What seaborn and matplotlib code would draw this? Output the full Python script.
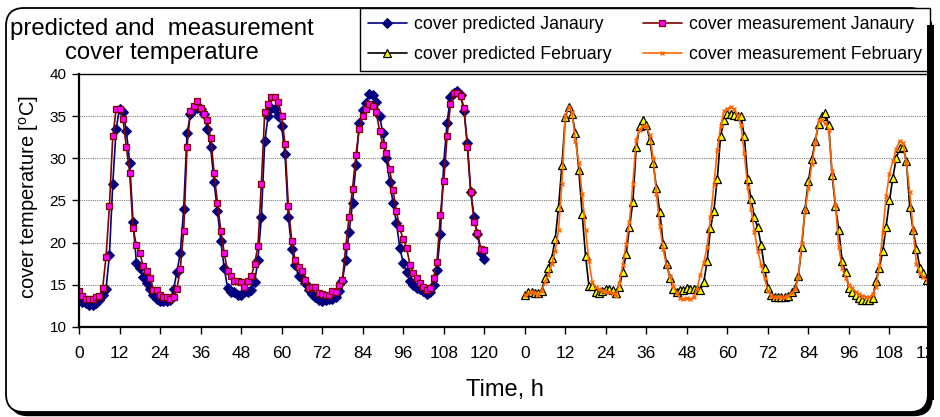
import numpy as np
import pandas as pd
import matplotlib
matplotlib.use("Agg")
import matplotlib.pyplot as plt
import seaborn as sns
from matplotlib.patches import FancyBboxPatch, Rectangle
from matplotlib.transforms import IdentityTransform

# hourly readings, 0..120 h for each month
hours = np.arange(0, 121)
feb_shift = 132  # February is drawn after January on the same axis

jan_predicted = [
    13.3, 13.0, 12.8, 12.6, 12.6, 12.8, 13.2, 13.8, 14.5, 18.5, 27.0, 33.5, 35.9, 35.5, 33.3, 29.5, 22.5, 17.6, 17.0, 15.9, 15.2, 14.5, 13.8, 13.3, 13.1,
    13.1, 13.1, 13.2, 14.5, 16.5, 18.8, 24.0, 33.0, 35.2, 35.8, 36.0, 35.8, 35.3, 33.5, 31.3, 27.2, 23.7, 20.2, 17.0, 14.6, 14.2, 14.2, 13.8, 13.8, 14.1,
    14.2, 14.4, 15.3, 18.0, 23.0, 32.0, 35.0, 36.0, 35.8, 35.0, 33.8, 30.5, 23.0, 19.3, 17.3, 16.1, 15.8, 15.2, 14.4, 13.9, 13.5, 13.2, 13.1, 13.2, 13.3,
    13.3, 13.6, 14.3, 15.5, 18.0, 21.3, 24.7, 29.2, 34.2, 35.7, 36.6, 37.6, 37.5, 36.7, 35.0, 33.0, 30.0, 27.2, 24.7, 22.3, 19.4, 17.6, 16.5, 15.5, 15.0,
    14.6, 14.5, 14.3, 13.9, 14.1, 15.0, 16.8, 21.0, 29.4, 34.2, 37.3, 37.8, 38.0, 37.5, 35.6, 31.8, 26.0, 23.1, 21.0, 18.8, 18.1,
]
jan_measured = [
    14.3, 13.7, 13.3, 13.3, 13.3, 13.5, 13.7, 14.6, 18.3, 24.3, 32.6, 35.8, 35.8, 34.7, 31.4, 28.3, 21.7, 19.7, 18.8, 17.2, 16.6, 15.8, 14.4, 14.4, 13.8,
    13.5, 13.5, 13.3, 13.5, 14.5, 16.9, 21.4, 31.4, 35.6, 36.2, 36.8, 36.0, 35.3, 34.5, 32.4, 28.3, 24.7, 21.4, 18.8, 16.6, 16.0, 15.4, 15.4, 15.3, 14.8,
    15.4, 16.0, 17.5, 19.6, 27.0, 35.5, 36.4, 37.3, 37.3, 36.7, 35.0, 31.7, 24.3, 20.2, 17.9, 17.1, 16.6, 15.6, 14.6, 14.8, 14.8, 14.0, 13.9, 13.8, 13.8,
    14.3, 14.1, 15.0, 15.6, 19.6, 23.1, 26.4, 30.4, 33.5, 35.0, 35.8, 36.4, 36.2, 35.5, 33.3, 31.6, 30.6, 28.7, 26.2, 23.7, 21.7, 20.4, 19.4, 17.4, 16.4,
    15.8, 15.2, 14.7, 14.4, 14.6, 15.8, 17.7, 23.3, 27.3, 32.6, 36.4, 37.8, 37.8, 37.4, 36.0, 31.4, 26.0, 22.5, 21.1, 19.3, 19.1,
]
feb_predicted = [
    13.8, 14.1, 14.1, 14.0, 14.0, 14.3, 15.8, 17.0, 18.2, 20.4, 24.2, 29.2, 34.9, 36.1, 35.2, 33.0, 28.6, 23.4, 18.4, 14.9, 14.9, 14.2, 14.0, 14.3, 14.5,
    14.5, 14.4, 14.0, 14.8, 16.5, 18.6, 21.8, 24.8, 31.3, 33.8, 34.5, 34.0, 32.2, 29.5, 26.5, 23.6, 19.8, 17.5, 15.8, 14.5, 14.2, 14.4, 14.4, 14.6, 14.5,
    14.5, 14.5, 14.4, 15.3, 17.8, 21.7, 23.8, 27.5, 32.7, 34.5, 35.3, 35.3, 35.1, 35.0, 35.0, 32.7, 27.6, 25.2, 23.0, 21.8, 19.7, 17.0, 14.6, 13.8, 13.5,
    13.5, 13.5, 13.5, 13.7, 14.1, 14.6, 16.0, 19.5, 24.0, 27.3, 29.9, 32.0, 34.1, 35.0, 35.4, 34.0, 28.0, 24.3, 21.5, 17.8, 16.5, 14.6, 14.1, 13.8, 13.4,
    13.2, 13.2, 13.2, 13.4, 15.5, 17.0, 19.0, 21.9, 25.0, 27.7, 30.0, 31.2, 31.3, 29.7, 24.2, 21.5, 19.3, 17.0, 16.4, 15.6, 16.4,
]
feb_measured = [
    13.8, 14.0, 14.2, 14.0, 13.8, 14.3, 15.3, 16.2, 17.5, 19.0, 21.5, 27.0, 35.0, 36.1, 35.5, 32.0, 29.5, 25.8, 21.5, 17.8, 15.3, 14.8, 14.5, 14.3, 14.2,
    14.1, 14.0, 13.7, 15.2, 17.3, 19.8, 22.5, 27.0, 32.2, 33.4, 33.8, 33.8, 32.8, 30.0, 25.8, 22.0, 19.2, 17.2, 16.0, 14.9, 14.0, 13.4, 13.3, 13.4, 13.3,
    13.5, 14.5, 16.2, 17.6, 19.5, 23.0, 26.8, 31.0, 33.8, 35.6, 35.9, 36.1, 35.8, 35.1, 34.0, 30.6, 26.6, 24.0, 21.3, 19.0, 17.4, 15.8, 14.3, 13.7, 13.5,
    13.5, 13.5, 13.5, 13.7, 14.0, 14.5, 15.8, 20.0, 23.8, 26.5, 29.3, 31.8, 34.5, 34.5, 34.2, 33.4, 28.5, 24.5, 19.5, 17.0, 15.8, 15.0, 14.6, 14.2, 13.9,
    13.7, 13.6, 13.5, 13.9, 14.7, 17.3, 21.2, 25.5, 28.2, 29.7, 31.1, 32.1, 31.8, 29.5, 26.0, 21.5, 17.5, 16.4, 15.9, 15.6, 15.8,
]

labels = ["cover predicted Janaury", "cover measurement Janaury",
          "cover predicted February", "cover measurement February"]
tick_pos = np.arange(0, 253, 12)
tick_lab = [str(t) if t <= 120 else str(t - feb_shift) for t in tick_pos]

sns.set_style("white")
plt.rcParams["font.family"] = ["Liberation Sans", "DejaVu Sans"]
plt.rcParams["text.color"] = "black"
plt.rcParams["xtick.color"] = "black"
plt.rcParams["ytick.color"] = "black"

fig = plt.figure(figsize=(9.4, 4.17), dpi=100)
ax = fig.add_axes([79 / 940, 1 - 327 / 417, 851 / 940, 253 / 417])

# outer rounded frame with shadow (pixel coordinates)
shadow = FancyBboxPatch((10, 1.5), 922, 404, boxstyle="round,pad=0,rounding_size=18",
                        transform=IdentityTransform(), facecolor="black",
                        edgecolor="black", zorder=-3)
frame = FancyBboxPatch((6, 5), 922, 404, boxstyle="round,pad=0,rounding_size=18",
                       transform=IdentityTransform(), facecolor="white",
                       edgecolor="black", linewidth=1.3, zorder=-2)
fig.add_artist(shadow)
fig.add_artist(frame)

jan = pd.DataFrame({"h": hours, "pred": jan_predicted, "meas": jan_measured})
feb = pd.DataFrame({"h": hours + feb_shift, "pred": feb_predicted, "meas": feb_measured})

sns.lineplot(data=jan, x="h", y="pred", ax=ax, color="#000080", linewidth=1.2,
             marker="D", markersize=4.8, markerfacecolor="#000080",
             markeredgecolor="#000080", label=labels[0])
sns.lineplot(data=jan, x="h", y="meas", ax=ax, color="#800000", linewidth=1.2,
             marker="s", markersize=4.8, markerfacecolor="#FF00FF",
             markeredgecolor="#800000", markeredgewidth=0.9, label=labels[1])
sns.lineplot(data=feb, x="h", y="pred", ax=ax, color="black", linewidth=1.2,
             marker="^", markersize=5.8, markerfacecolor="#FFFF00",
             markeredgecolor="black", markeredgewidth=0.9, label=labels[2])
sns.lineplot(data=feb, x="h", y="meas", ax=ax, color="#FF6600", linewidth=1.2,
             marker="x", markersize=3.5, markeredgecolor="#FF6600",
             markeredgewidth=1.0, label=labels[3])

ax.set_xlim(0, 252)
ax.set_ylim(10, 40)
ax.set_xticks(tick_pos)
ax.set_xticklabels(tick_lab)
ax.set_yticks(np.arange(10, 41, 5))
ax.set_xlabel("")
ax.set_ylabel("")
ax.set_facecolor("none")
ax.yaxis.grid(True, linestyle=(0, (1, 1)), color="#808080", linewidth=0.8)
ax.xaxis.grid(False)
for s in ax.spines.values():
    s.set_color("black")
    s.set_linewidth(1.0)
ax.spines["left"].set_linewidth(1.6)
ax.spines["bottom"].set_linewidth(1.6)
ax.tick_params(axis="x", direction="out", length=5, width=1, pad=9, labelsize=12.5, bottom=True)
ax.tick_params(axis="y", direction="out", length=5, width=1, pad=4, labelsize=11, left=True)

handles, labs = ax.get_legend_handles_labels()
ax.get_legend().remove()
order = [0, 2, 1, 3]
leg = fig.legend([handles[i] for i in order], [labs[i] for i in order],
                 loc="upper right", bbox_to_anchor=(930 / 940, 1 - 8 / 417),
                 ncol=2, frameon=True, fancybox=False, edgecolor="black",
                 framealpha=1, borderaxespad=0, fontsize=12.8, handlelength=2.2,
                 handletextpad=0.4, columnspacing=1.75, labelspacing=0.75,
                 borderpad=0.45)
leg.get_frame().set_linewidth(1.0)

fig.text(161.5 / 940, 1 - 18 / 417, "predicted and  measurement\ncover temperature",
         ha="center", va="top", fontsize=17.2, linespacing=1.12, multialignment="center")
fig.text(29.5 / 940, 1 - 197.5 / 417, r"cover temperature [$^\mathregular{o}$C]",
         rotation=90, ha="center", va="center", fontsize=14.5)
fig.text(505 / 940, 1 - 390 / 417, "Time, h", ha="center", va="center", fontsize=17)

# right edge shadow drawn over the last tick label, as in the original
fig.add_artist(Rectangle((927, 17), 7, 375, transform=IdentityTransform(),
                         facecolor="black", edgecolor="none", zorder=10))
fig.add_artist(Rectangle((934, 0), 6, 417, transform=IdentityTransform(),
                         facecolor="white", edgecolor="none", zorder=10))

fig.savefig("out.png", dpi=100)
